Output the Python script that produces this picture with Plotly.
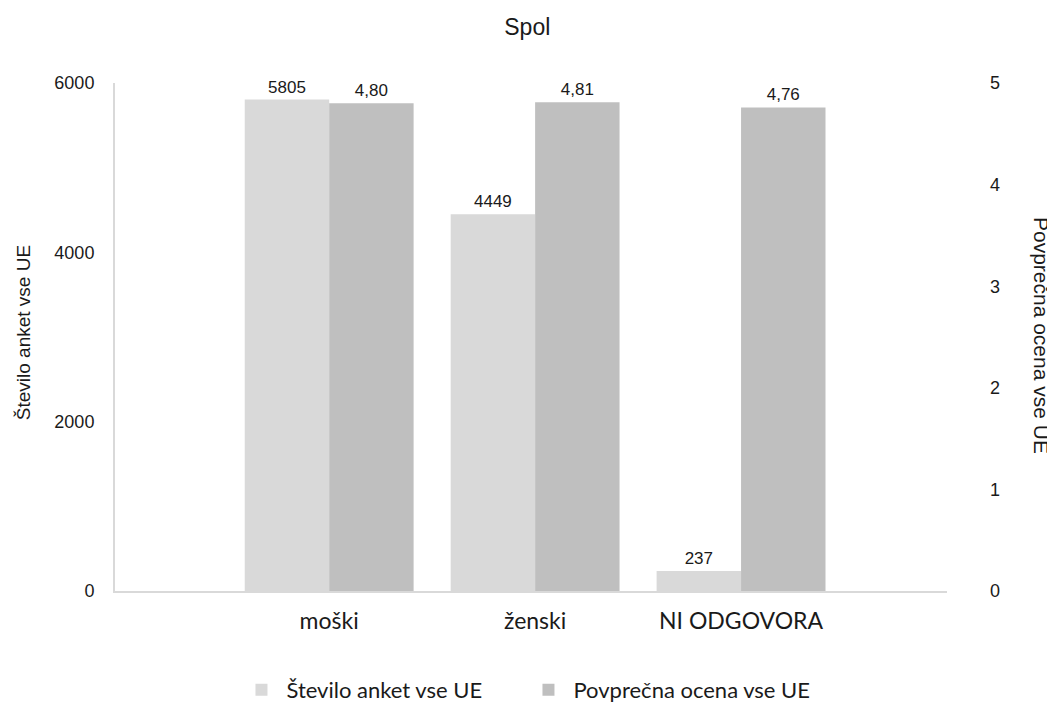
import plotly.graph_objects as go

categories = ["moški", "ženski", "NI ODGOVORA"]
count_values = [5805, 4449, 237]
avg_values = [4.80, 4.81, 4.76]
count_name = "Število anket vse UE"
avg_name = "Povprečna ocena vse UE"

light = "#d9d9d9"
dark = "#bfbfbf"
txt = "#1a1a1a"
sans = "Liberation Sans, Arial"

fig = go.Figure()
fig.add_trace(go.Bar(
    x=categories, y=count_values, name=count_name,
    marker=dict(color=light, line=dict(width=0)),
    offsetgroup="a", yaxis="y",
    text=[str(v) for v in count_values], textposition="outside",
    textfont=dict(family=sans, size=17, color=txt),
    cliponaxis=False,
))
fig.add_trace(go.Bar(
    x=categories, y=avg_values, name=avg_name,
    marker=dict(color=dark, line=dict(width=0)),
    offsetgroup="b", yaxis="y2",
    text=[f"{v:.2f}".replace(".", ",") for v in avg_values], textposition="outside",
    textfont=dict(family=sans, size=17, color=txt),
    cliponaxis=False,
))

# the page puts the plot 8px in from the corner, so the canvas is trimmed by that much
fig.update_layout(
    width=1047, height=694,
    paper_bgcolor="white", plot_bgcolor="white",
    margin=dict(l=107, r=108, t=75, b=111, autoexpand=False),
    barmode="group", bargap=0.18, bargroupgap=0,
    title=dict(text="Spol", x=0.496, xanchor="center", y=0.973, yanchor="middle",
               font=dict(family=sans, size=23, color=txt)),
    font=dict(family=sans, size=18, color=txt),
    xaxis=dict(
        type="category", range=[-1.04, 3.0], automargin=False,
        showline=True, linecolor="#d9d9d9", linewidth=2,
        showgrid=False, ticks="", ticklabelstandoff=8,
        tickfont=dict(family="Lato", size=23, color=txt),
    ),
    yaxis=dict(
        range=[0, 6000], tickvals=[0, 2000, 4000, 6000], automargin=False,
        showline=True, linecolor="#d9d9d9", linewidth=2,
        showgrid=False, zeroline=False, ticks="", ticklabelstandoff=15,
        tickfont=dict(family=sans, size=18, color=txt),
    ),
    yaxis2=dict(
        range=[0, 5], tickvals=[0, 1, 2, 3, 4, 5], overlaying="y", side="right",
        automargin=False,
        showline=False, showgrid=False, zeroline=False, ticks="", ticklabelstandoff=42,
        tickfont=dict(family=sans, size=18, color=txt),
    ),
    legend=dict(
        orientation="h", x=0.146, xanchor="left", y=-0.195, yanchor="middle",
        font=dict(family="Lato", size=22, color=txt),
        entrywidth=232, itemwidth=40,
    ),
    showlegend=True,
    annotations=[
        dict(text=count_name, xref="paper", yref="paper", x=-0.109, y=0.508,
             textangle=-90, showarrow=False, xanchor="center", yanchor="middle",
             font=dict(family=sans, size=19, color=txt)),
        dict(text=avg_name, xref="paper", yref="paper", x=1.113, y=0.504,
             textangle=90, showarrow=False, xanchor="center", yanchor="middle",
             font=dict(family=sans, size=21, color=txt)),
    ],
)

fig.write_html("out.html")
